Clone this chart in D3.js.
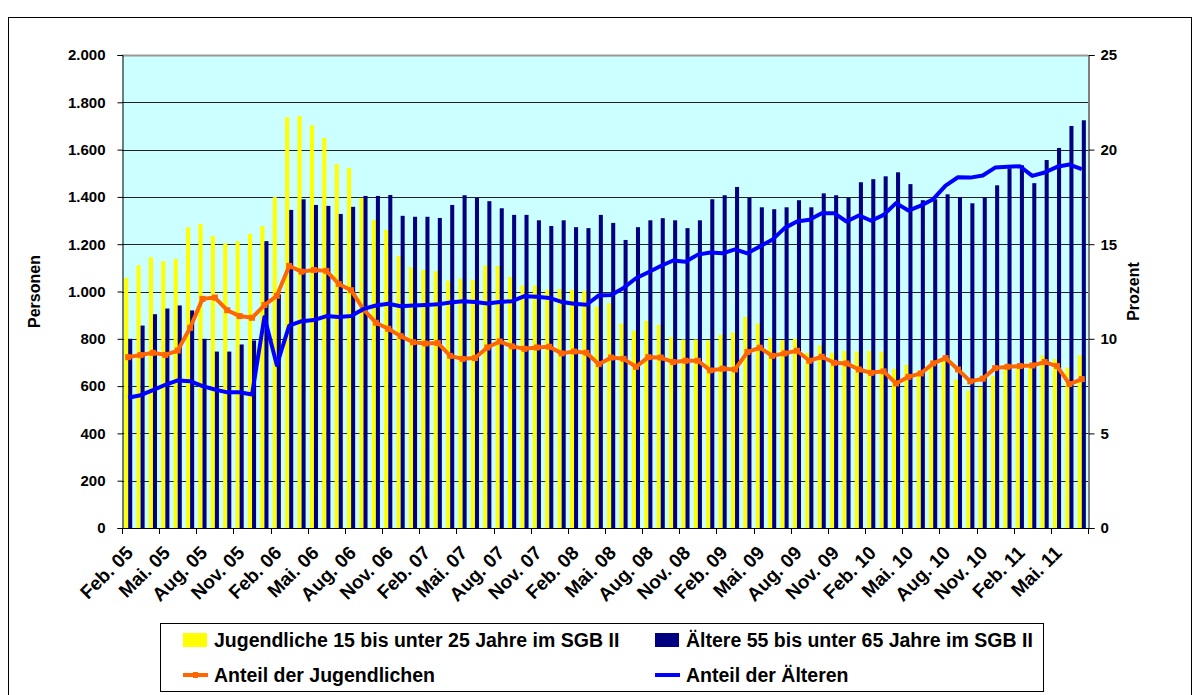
<!DOCTYPE html>
<html>
<head>
<meta charset="utf-8">
<script src="https://cdn.jsdelivr.net/npm/d3@7"></script>
<style>
  body { margin: 0; background: #fff; }
  svg { display: block; font-family: "Liberation Sans", Arial, sans-serif; font-weight: bold; }
</style>
</head>
<body>
<div id="chart"></div>
<script>
const width = 1200;
const height = 695;

const monthNames = ["Jan.", "Feb.", "Mrz.", "Apr.", "Mai.", "Jun.", "Jul.", "Aug.", "Sep.", "Okt.", "Nov.", "Dez."];

// Feb. 05 .. Jul. 11
const categories = [];
for (let k = 0; k < 78; k++) {
  const m = (1 + k) % 12;
  const y = 5 + Math.floor((1 + k) / 12);
  categories.push(monthNames[m] + " " + String(y).padStart(2, "0"));
}

const tickLabels = ["Feb. 05", "Mai. 05", "Aug. 05", "Nov. 05", "Feb. 06", "Mai. 06", "Aug. 06", "Nov. 06",
  "Feb. 07", "Mai. 07", "Aug. 07", "Nov. 07", "Feb. 08", "Mai. 08", "Aug. 08", "Nov. 08",
  "Feb. 09", "Mai. 09", "Aug. 09", "Nov. 09", "Feb. 10", "Mai. 10", "Aug. 10", "Nov. 10",
  "Feb. 11", "Mai. 11"];

// Jugendliche 15 bis unter 25 Jahre im SGB II
const jugendliche = [1058, 1111, 1145, 1128, 1137, 1272, 1286, 1235, 1204, 1213, 1244, 1277,
  1399, 1737, 1742, 1703, 1649, 1539, 1522, 1396, 1303, 1261, 1151, 1103,
  1092, 1086, 1046, 1054, 1050, 1111, 1108, 1062, 1026, 1026, 1008, 1011,
  1008, 1003, 937, 951, 865, 834, 876, 859, 808, 797, 797, 793,
  817, 827, 893, 865, 805, 794, 800, 741, 772, 741, 749, 746,
  749, 746, 673, 690, 665, 684, 713, 628, 580, 597, 642, 670,
  676, 676, 730, 715, 679, 730];

// Ältere 55 bis unter 65 Jahre im SGB II
const aeltere = [800, 856, 904, 928, 941, 920, 800, 746, 746, 776, 793, 1213,
  988, 1345, 1390, 1366, 1362, 1328, 1358, 1404, 1404, 1408, 1320, 1316,
  1316, 1311, 1366, 1407, 1396, 1382, 1352, 1324, 1324, 1301, 1277, 1301,
  1272, 1268, 1324, 1290, 1218, 1272, 1301, 1310, 1301, 1268, 1301, 1390,
  1407, 1442, 1396, 1356, 1348, 1356, 1386, 1356, 1415, 1407, 1396, 1462,
  1475, 1487, 1504, 1454, 1386, 1390, 1411, 1399, 1373, 1399, 1449, 1521,
  1534, 1458, 1556, 1607, 1700, 1724];

// Anteil der Jugendlichen (Prozent)
const anteilJung = [9.03, 9.14, 9.26, 9.15, 9.38, 10.58, 12.11, 12.18, 11.51, 11.2, 11.11, 11.78,
  12.27, 13.85, 13.55, 13.64, 13.59, 12.9, 12.57, 11.55, 10.85, 10.53, 10.14, 9.82,
  9.75, 9.78, 9.1, 8.94, 8.98, 9.54, 9.86, 9.6, 9.47, 9.54, 9.58, 9.23,
  9.33, 9.26, 8.66, 9.01, 8.94, 8.52, 9.03, 9.01, 8.77, 8.84, 8.84, 8.33,
  8.42, 8.38, 9.3, 9.53, 9.1, 9.23, 9.37, 8.84, 9.05, 8.73, 8.7, 8.38,
  8.2, 8.28, 7.64, 7.99, 8.17, 8.7, 8.98, 8.38, 7.75, 7.89, 8.45, 8.52,
  8.56, 8.59, 8.77, 8.56, 7.61, 7.87];

// Anteil der Älteren (Prozent)
const anteilAlt = [6.88, 7.02, 7.29, 7.57, 7.8, 7.76, 7.5, 7.32, 7.17, 7.17, 7.06, 11.15,
  8.61, 10.7, 10.93, 10.99, 11.2, 11.15, 11.2, 11.58, 11.76, 11.85, 11.72, 11.76,
  11.78, 11.82, 11.92, 11.99, 11.94, 11.87, 11.95, 11.99, 12.25, 12.22, 12.16, 11.95,
  11.85, 11.8, 12.29, 12.31, 12.69, 13.2, 13.52, 13.85, 14.14, 14.07, 14.45, 14.56,
  14.52, 14.73, 14.52, 14.88, 15.23, 15.85, 16.2, 16.29, 16.64, 16.64, 16.2, 16.52,
  16.24, 16.55, 17.17, 16.78, 17.04, 17.38, 18.1, 18.54, 18.52, 18.63, 19.05, 19.09,
  19.12, 18.61, 18.79, 19.09, 19.21, 18.97];

const leftTicks = [0, 200, 400, 600, 800, 1000, 1200, 1400, 1600, 1800, 2000];
const rightTicks = [0, 5, 10, 15, 20, 25];

const plot = { left: 122, right: 1088, top: 55, bottom: 528 };
const font = "Liberation Sans, Arial, sans-serif";

const svg = d3.select("#chart").append("svg")
  .attr("width", width)
  .attr("height", height);

// chart frame
svg.append("rect")
  .attr("x", 8.5).attr("y", 17.5)
  .attr("width", 1183).attr("height", 690)
  .attr("fill", "#fff")
  .attr("stroke", "#000")
  .attr("stroke-width", 1);

const x = d3.scaleBand()
  .domain(d3.range(categories.length))
  .range([plot.left, plot.right])
  .padding(0);

const xSub = d3.scaleBand()
  .domain(["jung", "alt"])
  .range([0, x.bandwidth()])
  .paddingInner(0)
  .paddingOuter(0.53);

const yLeft = d3.scaleLinear().domain([0, 2000]).range([plot.bottom, plot.top]);
const yRight = d3.scaleLinear().domain([0, 25]).range([plot.bottom, plot.top]);

// plot background
svg.append("rect")
  .attr("x", plot.left).attr("y", plot.top)
  .attr("width", plot.right - plot.left)
  .attr("height", plot.bottom - plot.top)
  .attr("fill", "#CCFFFF");

// gridlines
svg.append("g")
  .selectAll("line")
  .data(leftTicks.slice(1))
  .join("line")
  .attr("x1", plot.left).attr("x2", plot.right)
  .attr("y1", d => Math.round(yLeft(d)) + 0.5)
  .attr("y2", d => Math.round(yLeft(d)) + 0.5)
  .attr("stroke", d => d === 2000 ? "#999" : "#222")
  .attr("stroke-width", d => d === 2000 ? 2 : 1);

// bars
const barG = svg.append("g");
barG.selectAll("rect.jung")
  .data(jugendliche)
  .join("rect")
  .attr("class", "jung")
  .attr("x", (d, i) => x(i) + xSub("jung"))
  .attr("width", xSub.bandwidth())
  .attr("y", d => yLeft(d))
  .attr("height", d => yLeft(0) - yLeft(d))
  .attr("fill", "#FFFF00");

barG.selectAll("rect.alt")
  .data(aeltere)
  .join("rect")
  .attr("class", "alt")
  .attr("x", (d, i) => x(i) + xSub("alt"))
  .attr("width", xSub.bandwidth())
  .attr("y", d => yLeft(d))
  .attr("height", d => yLeft(0) - yLeft(d))
  .attr("fill", "#000080");

// lines
const cx = i => x(i) + x.bandwidth() / 2;

const lineJung = d3.line().x((d, i) => cx(i)).y(d => yRight(d));
svg.append("path")
  .datum(anteilJung)
  .attr("d", lineJung)
  .attr("fill", "none")
  .attr("stroke", "#FF6600")
  .attr("stroke-width", 4)
  .attr("stroke-linejoin", "round");

svg.append("g")
  .selectAll("rect")
  .data(anteilJung)
  .join("rect")
  .attr("x", (d, i) => cx(i) - 3)
  .attr("y", d => yRight(d) - 3)
  .attr("width", 6).attr("height", 6)
  .attr("fill", "#FF6600");

const lineAlt = d3.line().x((d, i) => cx(i)).y(d => yRight(d));
svg.append("path")
  .datum(anteilAlt)
  .attr("d", lineAlt)
  .attr("fill", "none")
  .attr("stroke", "#0000FF")
  .attr("stroke-width", 4)
  .attr("stroke-linejoin", "round");

// left axis
const axisLeft = d3.axisLeft(yLeft)
  .tickValues(leftTicks)
  .tickSize(5)
  .tickPadding(12)
  .tickFormat(d => d3.format(",")(d).replace(/,/g, "."));

svg.append("g")
  .attr("transform", `translate(${plot.left + 0.5},0)`)
  .call(axisLeft)
  .call(g => g.selectAll("text").attr("font-size", 15).attr("font-weight", "bold").attr("fill", "#000").attr("font-family", font))
  .call(g => g.selectAll("line, path").attr("stroke", "#000"));

// right axis
const axisRight = d3.axisRight(yRight)
  .tickValues(rightTicks)
  .tickSize(6)
  .tickPadding(6)
  .tickFormat(d3.format("d"));

svg.append("g")
  .attr("transform", `translate(${plot.right + 0.5},0)`)
  .call(axisRight)
  .call(g => g.selectAll("text").attr("font-size", 15).attr("font-weight", "bold").attr("fill", "#000").attr("font-family", font))
  .call(g => g.selectAll("line, path").attr("stroke", "#000"));

// bottom axis: ticks every third category boundary
const bottomTicks = d3.range(0, categories.length, 3).map(i => x(i)).concat([plot.right]);
const xg = svg.append("g");
xg.append("line")
  .attr("x1", plot.left).attr("x2", plot.right)
  .attr("y1", plot.bottom + 0.5).attr("y2", plot.bottom + 0.5)
  .attr("stroke", "#000");
xg.selectAll("line.tick")
  .data(bottomTicks)
  .join("line")
  .attr("class", "tick")
  .attr("x1", d => Math.round(d) + 0.5)
  .attr("x2", d => Math.round(d) + 0.5)
  .attr("y1", plot.bottom)
  .attr("y2", plot.bottom + 6)
  .attr("stroke", "#000");

// rotated category labels (-45°), anchored at the baseline end
xg.selectAll("text.xlabel")
  .data(tickLabels)
  .join("text")
  .attr("class", "xlabel")
  .attr("transform", (d, k) => `translate(${cx(k * 3) + 6},${plot.bottom + 26}) rotate(-45)`)
  .attr("text-anchor", "end")
  .attr("font-size", 19)
  .attr("font-family", font)
  .attr("font-weight", "bold")
  .text(d => d);

// axis titles
svg.append("text")
  .attr("transform", `translate(40,${(plot.top + plot.bottom) / 2}) rotate(-90)`)
  .attr("text-anchor", "middle")
  .attr("font-size", 16)
  .text("Personen");

svg.append("text")
  .attr("transform", `translate(1139,${(plot.top + plot.bottom) / 2}) rotate(-90)`)
  .attr("text-anchor", "middle")
  .attr("font-size", 16)
  .text("Prozent");

// legend
const legend = svg.append("g");
legend.append("rect")
  .attr("x", 160.5).attr("y", 623.5)
  .attr("width", 883).attr("height", 68)
  .attr("fill", "#fff")
  .attr("stroke", "#000");

const legendItems = [
  { label: "Jugendliche 15 bis unter 25 Jahre im SGB II", color: "#FFFF00", type: "box", x: 183, y: 640 },
  { label: "Ältere 55 bis unter 65 Jahre im SGB II", color: "#000080", type: "box", x: 655, y: 640 },
  { label: "Anteil der Jugendlichen", color: "#FF6600", type: "line", x: 183, y: 675 },
  { label: "Anteil der Älteren", color: "#0000FF", type: "line", x: 655, y: 675 }
];

legendItems.forEach(d => {
  if (d.type === "box") {
    legend.append("rect")
      .attr("x", d.x).attr("y", d.y - 7)
      .attr("width", 24).attr("height", 14)
      .attr("fill", d.color);
  } else {
    legend.append("line")
      .attr("x1", d.x).attr("x2", d.x + 25)
      .attr("y1", d.y).attr("y2", d.y)
      .attr("stroke", d.color)
      .attr("stroke-width", 4);
    if (d.color === "#FF6600") {
      legend.append("rect")
        .attr("x", d.x + 10).attr("y", d.y - 3)
        .attr("width", 5).attr("height", 6)
        .attr("fill", d.color);
    }
  }
  legend.append("text")
    .attr("x", d.x + 31)
    .attr("y", d.y)
    .attr("dy", "0.35em")
    .attr("font-size", 19.5)
    .text(d.label);
});
</script>
</body>
</html>
